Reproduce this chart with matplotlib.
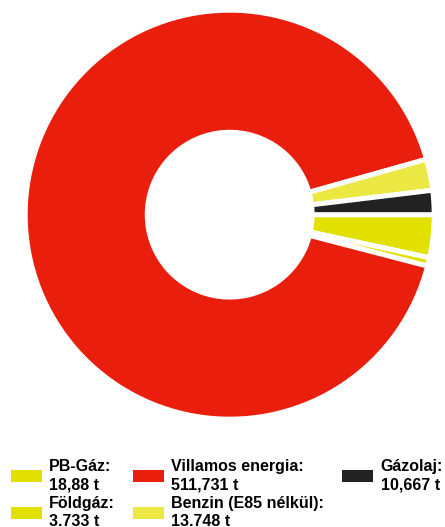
import matplotlib
matplotlib.use("Agg")
import matplotlib.pyplot as plt

# adatok (tonna)
categories = ["PB-Gáz", "Földgáz", "Villamos energia", "Benzin (E85 nélkül)", "Gázolaj"]
values = [18.88, 3.733, 511.731, 13.748, 10.667]
value_labels = ["18,88 t", "3.733 t", "511,731 t", "13.748 t", "10,667 t"]
colors = ["#e1e000", "#e1e000", "#e91e0c", "#ebe843", "#222222"]

plt.rcParams["font.family"] = ["Liberation Sans", "DejaVu Sans"]

fig = plt.figure(figsize=(4.45, 5.27), dpi=100)
ax = fig.add_axes([0.0566, 0.2046, 0.9191, 0.7761])

wedges, _ = ax.pie(
	values,
	colors=colors,
	startangle=0,
	counterclock=False,
	radius=1.0,
	wedgeprops=dict(width=0.597, edgecolor="white", linewidth=3.6),
)
ax.set_xlim(-1, 1)
ax.set_ylim(-1, 1)
ax.set_aspect("equal")
ax.axis("off")

labels = [f"{c}:\n{v}" for c, v in zip(categories, value_labels)]
leg = fig.legend(
	wedges,
	labels,
	loc="upper left",
	bbox_to_anchor=(0.0247, 0.129),
	ncol=3,
	frameon=False,
	borderpad=0,
	borderaxespad=0,
	handlelength=1.95,
	handleheight=0.81,
	handletextpad=0.45,
	columnspacing=1.12,
	labelspacing=0.2,
	prop=dict(family="Liberation Sans", weight="bold", size=11.5),
)
for t in leg.get_texts():
	t.set_linespacing(1.3)
for h in leg.legend_handles:
	h.set_linewidth(0)

fig.savefig("out.png", dpi=100)
